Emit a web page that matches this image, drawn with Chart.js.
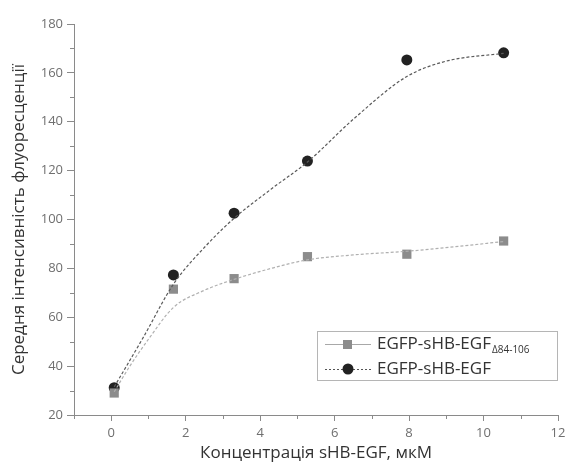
<!DOCTYPE html>
<html>
<head>
<meta charset="utf-8">
<script src="https://cdn.jsdelivr.net/npm/chart.js@4"></script>
<style>
  html, body { margin:0; padding:0; background:#fff; }
  #wrap { width:567px; height:463px; }
</style>
</head>
<body>
<div id="wrap"><canvas id="chart" width="567" height="463"></canvas></div>
<script>
// measured points
const concX = [0.08, 1.67, 3.3, 5.27, 7.94, 10.54];
const deltaY = [29.0, 71.5, 75.8, 84.8, 85.8, 91.2];     // EGFP-sHB-EGF Δ84-106
const fullY = [31.2, 77.3, 102.6, 123.9, 165.3, 168.2];  // EGFP-sHB-EGF

// fit curves
const fitDeltaX = [0.08, 0.5, 1.0, 1.67, 2.5, 3.3, 4.3, 5.27, 6.5, 7.94, 9.2, 10.54];
const fitDeltaY = [29.5, 40, 51, 64, 71, 75.5, 80, 83.5, 85.5, 87, 88.8, 91];
const fitFullX = [0.08, 0.87, 1.67, 2.56, 3.3, 4.3, 5.27, 6.5, 7.94, 9.0, 10.54];
const fitFullY = [31.5, 52, 73.5, 89.5, 100.5, 112.5, 123.5, 141, 158.5, 164.8, 168];

const xTicks = [0, 2, 4, 6, 8, 10, 12];
const yTicks = [20, 40, 60, 80, 100, 120, 140, 160, 180];
const xMinor = [-1, 1, 3, 5, 7, 9, 11];
const yMinor = [30, 50, 70, 90, 110, 130, 150, 170];

const pts = (xs, ys) => xs.map((x, i) => ({x, y: ys[i]}));
const axisColor = '#8a8a8a';
const tickFont = {family: 'Open Sans', size: 13};
const titleFont = {family: 'Open Sans', size: 17};

// minor ticks and the legend box
const extras = {
  id: 'extras',
  afterDraw(chart) {
    const {ctx, scales: {x, y}} = chart;
    ctx.save();
    ctx.strokeStyle = axisColor;
    ctx.lineWidth = 1;
    ctx.beginPath();
    xMinor.forEach(v => {
      const px = Math.round(x.getPixelForValue(v)) + 0.5;
      ctx.moveTo(px, y.bottom); ctx.lineTo(px, y.bottom + 4);
    });
    yMinor.forEach(v => {
      const py = Math.round(y.getPixelForValue(v)) + 0.5;
      ctx.moveTo(x.left, py); ctx.lineTo(x.left - 4, py);
    });
    ctx.stroke();

    // legend
    const lx = 317, ly = 331, lw = 240, lh = 49;
    ctx.strokeStyle = '#b5b5b5';
    ctx.strokeRect(lx + 0.5, ly + 0.5, lw, lh);
    const rows = [
      {y: ly + 13, line: '#a8a8a8', dash: [], marker: 'rect', fill: '#8c8c8c', text: 'EGFP-sHB-EGF', sub: 'Δ84-106'},
      {y: ly + 38, line: '#555', dash: [2, 2], marker: 'circle', fill: '#222', text: 'EGFP-sHB-EGF', sub: ''}
    ];
    rows.forEach(r => {
      ctx.strokeStyle = r.line;
      ctx.setLineDash(r.dash);
      ctx.beginPath();
      ctx.moveTo(lx + 8, r.y + 0.5); ctx.lineTo(lx + 54, r.y + 0.5);
      ctx.stroke();
      ctx.setLineDash([]);
      ctx.fillStyle = r.fill;
      if (r.marker === 'rect') ctx.fillRect(lx + 26, r.y - 4, 9, 9);
      else { ctx.beginPath(); ctx.arc(lx + 31, r.y, 5.5, 0, Math.PI * 2); ctx.fill(); }
      ctx.fillStyle = '#333';
      ctx.font = '17px "Open Sans"';
      ctx.textBaseline = 'middle';
      ctx.fillText(r.text, lx + 60, r.y);
      if (r.sub) {
        const w = ctx.measureText(r.text).width;
        ctx.font = '10px "Open Sans"';
        ctx.fillText(r.sub, lx + 60 + w + 1, r.y + 6);
      }
    });
    ctx.restore();
  }
};

new Chart(document.getElementById('chart'), {
  type: 'scatter',
  data: {
    datasets: [
      {
        label: 'fit Δ84-106',
        data: pts(fitDeltaX, fitDeltaY),
        showLine: true, pointRadius: 0,
        borderColor: '#b0b0b0', borderWidth: 1.2, borderDash: [3, 2],
        cubicInterpolationMode: 'monotone'
      },
      {
        label: 'fit full',
        data: pts(fitFullX, fitFullY),
        showLine: true, pointRadius: 0,
        borderColor: '#5a5a5a', borderWidth: 1.2, borderDash: [3, 2],
        cubicInterpolationMode: 'monotone'
      },
      {
        label: 'EGFP-sHB-EGF Δ84-106',
        data: pts(concX, deltaY),
        pointStyle: 'rect', pointRadius: 6.5,
        backgroundColor: '#8c8c8c', borderColor: '#8c8c8c', borderWidth: 0
      },
      {
        label: 'EGFP-sHB-EGF',
        data: pts(concX, fullY),
        pointStyle: 'circle', pointRadius: 5.5,
        backgroundColor: '#222', borderColor: '#222', borderWidth: 0
      }
    ]
  },
  options: {
    responsive: false,
    animation: false,
    layout: {padding: {top: 24, right: 9, left: 9, bottom: 0}},
    plugins: {legend: {display: false}, tooltip: {enabled: false}},
    scales: {
      x: {
        type: 'linear', min: -1, max: 12,
        afterBuildTicks: s => { s.ticks = xTicks.map(v => ({value: v})); },
        afterFit: s => { s.height = 48; s.paddingRight = 0; },
        grid: {drawOnChartArea: false, color: axisColor, tickLength: 6},
        border: {color: axisColor},
        ticks: {color: '#6f6f6f', font: tickFont, padding: 4},
        title: {display: true, text: 'Концентрація sHB-EGF, мкМ', color: '#333',
                font: titleFont, padding: {top: 0, bottom: 0}}
      },
      y: {
        type: 'linear', min: 20, max: 180,
        afterBuildTicks: s => { s.ticks = yTicks.map(v => ({value: v})); },
        afterFit: s => { s.width = 65; },
        grid: {drawOnChartArea: false, color: axisColor, tickLength: 7},
        border: {color: axisColor},
        ticks: {color: '#6f6f6f', font: tickFont, padding: 4},
        title: {display: true, text: 'Середня інтенсивність флуоресценції', color: '#333',
                font: titleFont, padding: {top: 0, bottom: 4}}
      }
    }
  },
  plugins: [extras]
});
</script>
</body>
</html>
